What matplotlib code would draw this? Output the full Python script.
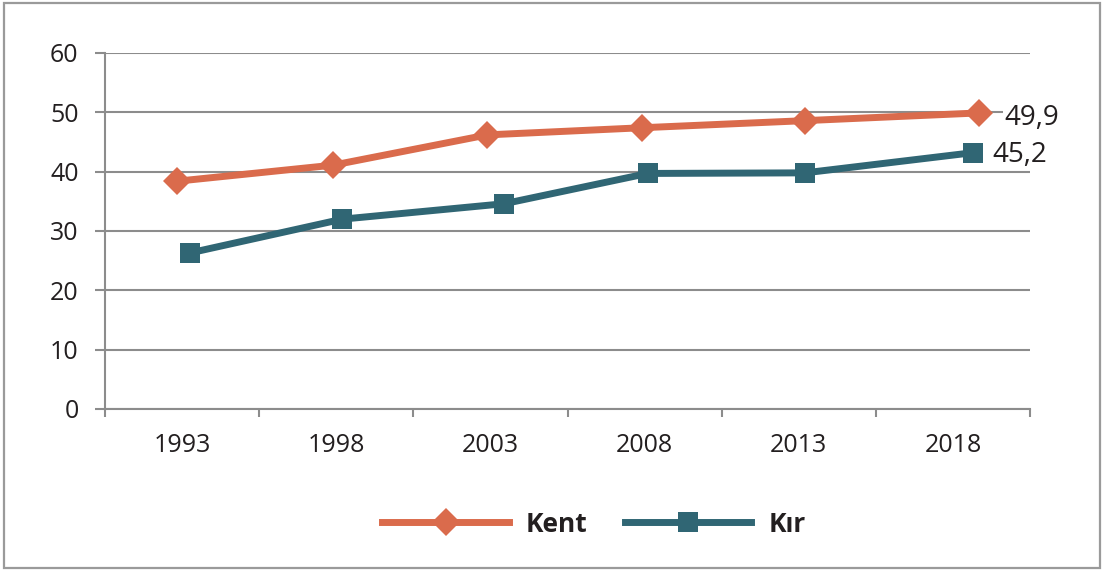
import matplotlib
matplotlib.use("Agg")
import matplotlib.pyplot as plt
from matplotlib.lines import Line2D
from matplotlib.patches import Rectangle

plt.rcParams["font.family"] = ["Open Sans", "DejaVu Sans"]

# ── Data ──────────────────────────────────────────────
years = ["1993", "1998", "2003", "2008", "2013", "2018"]
kent = [38.4, 41.1, 46.2, 47.4, 48.6, 49.9]
kir = [26.3, 32.0, 34.6, 39.7, 39.8, 43.2]
# marker positions (category index units)
kent_x = [-0.03, 0.98, 1.98, 2.98, 4.04, 5.17]
kir_x = [0.05, 1.04, 2.09, 3.02, 4.04, 5.13]
end_labels = ["49,9", "45,2"]

KENT_C = "#DA6B4C"
KIR_C = "#306674"
GRID_C = "#8C8C8C"
TEXT_C = "#231F20"

W, H = 1103, 571
fig = plt.figure(figsize=(W / 100, H / 100), dpi=100)
fig.patch.set_facecolor("white")
fig.patches.append(Rectangle((4 / W, 3 / H), 1096 / W, 565 / H,
                             transform=fig.transFigure, fill=False,
                             edgecolor="#9A9A9A", linewidth=1.6))

ax = fig.add_axes([105 / W, 1 - 409 / H, 925 / W, 356 / H])
ax.set_xlim(-0.5, len(years) - 0.5)
ax.set_ylim(0, 60)

ax.plot(kent_x, kent, color=KENT_C, linewidth=5, marker="D", markersize=14.5,
        markeredgewidth=0, solid_joinstyle="miter", zorder=4, label="Kent")
ax.plot(kir_x, kir, color=KIR_C, linewidth=5, marker="s", markersize=15,
        markeredgewidth=0, solid_joinstyle="miter", zorder=4, label="Kır")

# end-of-series labels
ax.annotate(end_labels[0], (kent_x[-1], kent[-1]), xytext=(18, -4),
            textcoords="offset points", fontsize=20, color=TEXT_C,
            va="center", ha="left", zorder=5,
            bbox=dict(facecolor="white", edgecolor="none", pad=1))
ax.annotate(end_labels[1], (kir_x[-1], kir[-1]), xytext=(14, -2),
            textcoords="offset points", fontsize=20, color=TEXT_C,
            va="center", ha="left", zorder=5)

# axes styling
ax.set_yticks(range(0, 61, 10))
ax.yaxis.grid(True, color=GRID_C, linewidth=1.5)
ax.set_axisbelow(True)
ax.set_xticks(range(len(years)))
ax.set_xticklabels(years)
ax.set_xticks([i - 0.5 for i in range(len(years) + 1)], minor=True)
ax.tick_params(axis="x", which="major", length=0, pad=17,
               labelsize=18, labelcolor=TEXT_C)
ax.tick_params(axis="x", which="minor", length=6, width=1.5, color=GRID_C)
ax.tick_params(axis="y", length=7, width=1.5, color=GRID_C, pad=12,
               labelsize=18, labelcolor=TEXT_C)
for side in ("top", "right"):
    ax.spines[side].set_visible(False)
for side in ("left", "bottom"):
    ax.spines[side].set_color(GRID_C)
    ax.spines[side].set_linewidth(1.5)

handles = [
    Line2D([], [], color=KENT_C, linewidth=5, marker="D", markersize=14.5,
           markeredgewidth=0),
    Line2D([], [], color=KIR_C, linewidth=5, marker="s", markersize=15,
           markeredgewidth=0),
]
leg = fig.legend(handles, ["Kent", "Kır"], loc="center",
                 bbox_to_anchor=(594 / W, 1 - 524 / H), ncol=2, frameon=False,
                 handlelength=4.8, handletextpad=0.65, columnspacing=1.4,
                 prop={"size": 19, "weight": "bold"})
for t in leg.get_texts():
    t.set_color(TEXT_C)

fig.savefig("out.png", dpi=100, facecolor="white")
